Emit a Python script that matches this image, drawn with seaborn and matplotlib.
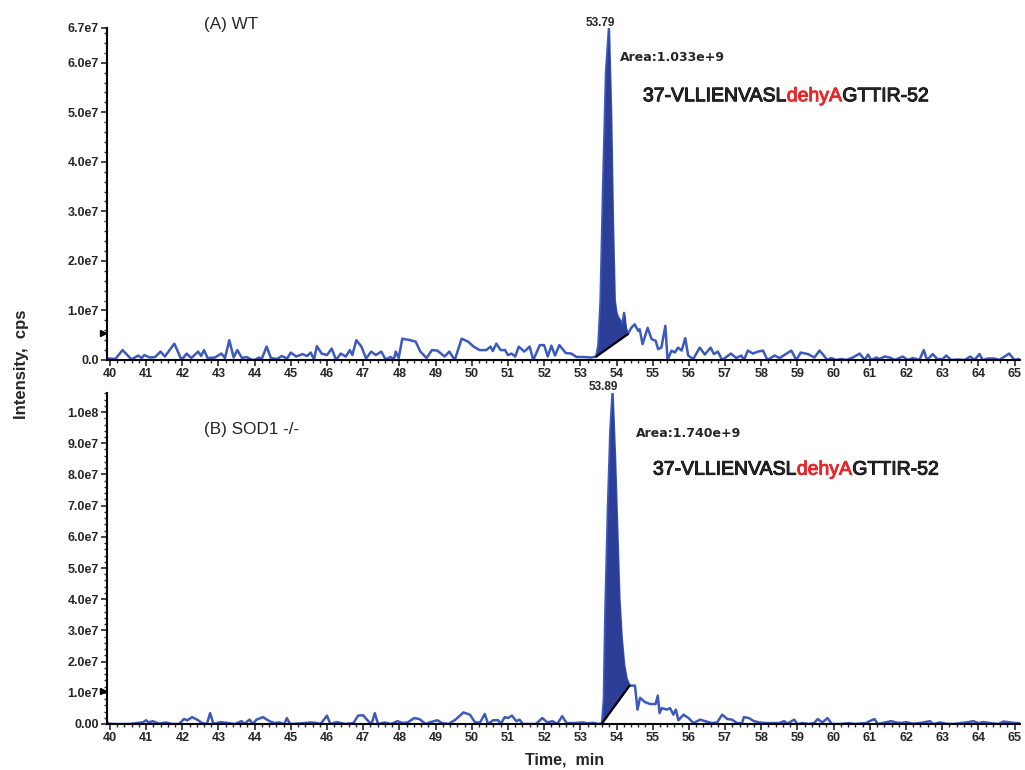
import numpy as np
import matplotlib
matplotlib.use("Agg")
import matplotlib.pyplot as plt
import matplotlib.patheffects as pe
from matplotlib.ticker import AutoMinorLocator
import seaborn as sns

# ---- data (intensity in 1e6 cps, time in min) ----
wt_time = [39.92, 40.0, 40.15, 40.35, 40.6, 40.78, 40.88, 40.95, 41.1, 41.25, 41.4, 41.52, 41.78, 41.98,
           42.12, 42.25, 42.44, 42.52, 42.6, 42.7, 42.9, 43.08, 43.18, 43.3, 43.42, 43.52, 43.65, 43.78,
           43.9, 44.0, 44.12, 44.2, 44.33, 44.45, 44.62, 44.75, 44.9, 45.0, 45.15, 45.32, 45.45, 45.55,
           45.64, 45.72, 45.85, 46.0, 46.13, 46.25, 46.38, 46.52, 46.63, 46.7, 46.81, 46.95, 47.08, 47.22,
           47.35, 47.5, 47.62, 47.75, 47.85, 47.9, 47.98, 48.08, 48.3, 48.45, 48.58, 48.75, 48.9, 49.05,
           49.25, 49.38, 49.53, 49.72, 49.9, 50.05, 50.22, 50.4, 50.52, 50.58, 50.68, 50.8, 50.92, 51.0,
           51.1, 51.2, 51.3, 51.45, 51.6, 51.7, 51.88, 52.0, 52.1, 52.2, 52.3, 52.42, 52.6, 52.75, 52.9,
           53.1, 53.3, 53.44, 53.5, 53.56, 53.63, 53.71, 53.79, 53.85, 53.9, 53.95, 54.0, 54.05, 54.1,
           54.16, 54.21, 54.26, 54.31, 54.41, 54.5, 54.6, 54.64, 54.72, 54.86, 54.97, 55.08, 55.15, 55.24,
           55.35, 55.41, 55.52, 55.61, 55.7, 55.8, 55.9, 55.98, 56.12, 56.3, 56.44, 56.6, 56.69, 56.8,
           56.92, 57.16, 57.31, 57.45, 57.52, 57.63, 57.77, 57.91, 58.05, 58.17, 58.37, 58.51, 58.83,
           58.97, 59.09, 59.29, 59.47, 59.61, 59.73, 59.82, 59.93, 60.07, 60.21, 60.35, 60.53, 60.72,
           60.86, 60.95, 61.04, 61.18, 61.27, 61.41, 61.55, 61.69, 61.91, 62.05, 62.19, 62.37, 62.49,
           62.58, 62.74, 62.86, 63.02, 63.11, 63.25, 63.43, 63.62, 63.78, 63.89, 64.03, 64.12, 64.26,
           64.44, 64.58, 64.85, 65.0, 65.12]
wt_intensity = [0.3, 0.3, 0.2, 2.0, 0.1, 0.9, 0.4, 1.0, 0.5, 0.6, 1.7, 0.7, 3.3, 0.0,
                1.3, 0.4, 1.7, 0.8, 2.0, 0.4, 0.5, 1.3, 0.4, 4.0, 0.5, 2.0, 0.4, 0.6,
                0.1, 0.0, 0.5, 0.3, 2.7, 0.4, 0.2, 0.8, 0.3, 1.5, 0.7, 1.2, 0.8, 1.5,
                0.1, 2.8, 1.3, 1.0, 2.3, 0.0, 1.3, 0.7, 2.0, 1.0, 4.0, 2.7, 0.3, 1.7,
                1.0, 1.7, 0.1, 0.6, 0.2, 1.7, 0.4, 4.3, 4.0, 3.7, 1.7, 0.4, 2.0, 1.9,
                0.7, 1.7, 0.0, 4.3, 3.7, 2.7, 2.0, 2.0, 2.7, 1.8, 3.3, 2.0, 2.0, 1.0,
                1.3, 0.7, 2.7, 1.7, 2.7, 0.0, 3.0, 3.0, 0.7, 2.9, 0.9, 3.0, 1.4, 1.3, 0.6,
                0.6, 0.5, 0.7, 3.0, 12.0, 35.0, 58.0, 66.8, 50.0, 28.0, 12.0, 9.5, 8.5, 8.0,
                7.0, 9.5, 6.5, 5.2, 6.5, 7.2, 5.9, 6.2, 3.2, 6.5, 4.2, 3.9, 2.2, 2.5,
                6.9, 0.0, 1.9, 1.5, 2.5, 1.9, 4.4, 0.9, 0.2, 2.5, 1.1, 2.5, 1.2, 1.7,
                0.0, 1.3, 0.4, 0.9, 0.0, 1.9, 1.3, 1.7, 1.9, 0.0, 0.9, 0.4, 1.9,
                0.0, 1.5, 1.2, 0.5, 1.9, 0.9, 0.0, 0.4, 0.0, 0.2, 0.0, 0.5, 1.3,
                0.0, 1.1, 0.0, 0.5, 0.2, 0.7, 0.5, 0.0, 0.7, 0.0, 0.4, 0.0, 2.0,
                0.0, 1.2, 0.2, 0.2, 0.9, 0.0, 0.1, 0.0, 0.7, 0.0, 1.2, 0.0, 0.3,
                0.3, 0.0, 1.3, 0.0, 0.2]

sod1_time = [39.9, 39.95, 40.18, 40.55, 40.73, 40.91, 41.0, 41.07, 41.18, 41.36, 41.55, 41.73, 41.91,
             42.05, 42.14, 42.27, 42.41, 42.55, 42.68, 42.77, 42.86, 43.05, 43.27, 43.45, 43.64, 43.71,
             43.86, 43.95, 44.05, 44.23, 44.41, 44.55, 44.68, 44.82, 44.89, 44.98, 45.27, 45.55, 45.73,
             45.82, 46.0, 46.09, 46.27, 46.5, 46.73, 46.86, 47.0, 47.14, 47.23, 47.32, 47.41, 47.59,
             47.77, 47.95, 48.09, 48.23, 48.41, 48.55, 48.73, 48.86, 49.05, 49.18, 49.36, 49.55, 49.77,
             49.95, 50.09, 50.23, 50.36, 50.45, 50.59, 50.73, 50.8, 50.91, 51.0, 51.11, 51.23, 51.32,
             51.41, 51.77, 51.95, 52.09, 52.23, 52.36, 52.5, 52.62, 52.82, 53.09, 53.2, 53.35, 53.5,
             53.6, 53.65, 53.69, 53.76, 53.83, 53.89, 53.96, 54.02, 54.08, 54.14, 54.21, 54.28, 54.36,
             54.51, 54.58, 54.65, 54.79, 54.93, 55.08, 55.14, 55.19, 55.25, 55.39, 55.48, 55.57, 55.64,
             55.71, 55.85, 55.99, 56.13, 56.31, 56.45, 56.64, 56.78, 56.92, 57.06, 57.19, 57.33, 57.47,
             57.52, 57.66, 57.8, 57.94, 58.12, 58.49, 58.63, 58.72, 58.91, 59.0, 59.14, 59.32, 59.46,
             59.56, 59.69, 59.83, 59.95, 60.16, 60.44, 60.57, 60.9, 60.99, 61.13, 61.22, 61.59, 61.73,
             61.87, 62.01, 62.19, 62.38, 62.66, 62.75, 62.94, 63.12, 63.31, 63.72, 63.86, 64.0, 64.14,
             64.32, 64.56, 64.69, 64.88, 65.02, 65.12]
sod1_intensity = [1.2, 0.1, 0.0, 0.0, 0.3, 0.5, 1.2, 0.5, 0.9, 0.1, 0.5, 0.0, 0.0,
                  1.6, 1.2, 2.2, 1.4, 0.3, 0.0, 3.5, 0.0, 0.6, 0.3, 0.0, 0.9, 0.0,
                  1.4, 0.0, 1.4, 2.2, 0.9, 0.3, 0.5, 0.0, 1.9, 0.0, 0.2, 0.5, 0.3,
                  0.0, 2.7, 0.0, 0.6, 0.0, 0.3, 2.7, 2.8, 0.9, 0.0, 3.5, 0.0, 0.5,
                  0.0, 0.9, 0.3, 0.5, 1.9, 1.6, 0.0, 0.6, 1.2, 0.3, 0.0, 1.4, 3.7,
                  3.0, 0.5, 0.5, 3.2, 0.0, 1.2, 1.2, 0.0, 2.2, 1.9, 2.7, 0.9, 1.4,
                  0.0, 0.0, 1.9, 0.5, 0.9, 0.0, 2.5, 0.3, 0.3, 0.5, 0.2, 0.4, 0.0,
                  0.2, 7.7, 35.0, 68.0, 94.0, 106.0, 85.0, 62.0, 40.0, 28.0, 19.0, 14.5, 12.3,
                  12.3, 4.6, 8.4, 7.0, 6.4, 6.4, 9.1, 3.5, 5.1, 4.6, 5.1, 3.0, 4.6,
                  1.2, 3.0, 1.9, 0.3, 1.4, 0.9, 0.3, 0.5, 3.0, 1.6, 1.4, 0.3, 0.3,
                  2.2, 1.9, 0.9, 0.5, 0.3, 0.3, 0.9, 0.1, 1.4, 0.0, 0.3, 0.0, 0.3,
                  1.6, 0.5, 1.9, 0.0, 0.0, 0.3, 0.0, 0.3, 0.9, 1.6, 0.0, 0.9, 0.5,
                  0.3, 0.6, 0.1, 0.3, 0.9, 0.0, 0.5, 0.1, 0.0, 0.6, 0.9, 0.3, 0.6,
                  0.3, 0.0, 0.8, 0.5, 0.3, 0.3]

panel_labels = ['(A) WT', '(B) SOD1 -/-']
peak_rt = [53.79, 53.89]
peak_window = [(53.44, 54.31), (53.60, 54.36)]
area_labels = ['Area:1.033e+9', 'Area:1.740e+9']
threshold = [5.4, 10.6]
ytick_values = [[0, 10, 20, 30, 40, 50, 60, 67],
                [0, 10, 20, 30, 40, 50, 60, 70, 80, 90, 100]]
ytick_labels = [['0.0', '1.0e7', '2.0e7', '3.0e7', '4.0e7', '5.0e7', '6.0e7', '6.7e7'],
                ['0.00', '1.0e7', '2.0e7', '3.0e7', '4.0e7', '5.0e7', '6.0e7', '7.0e7', '8.0e7',
                 '9.0e7', '1.0e8']]
ymax = [67, 106.1]
xticks = list(range(40, 66))

line_color = '#3c5abe'
fill_color = '#2d3e96'

sns.set_style("ticks")
plt.rcParams['font.family'] = ['Liberation Sans', 'DejaVu Sans']

fig = plt.figure(figsize=(10.25, 7.7), dpi=100)
ax_top = fig.add_axes([107 / 1025, 1 - 360 / 770, 913 / 1025, 332 / 770])
ax_bot = fig.add_axes([107 / 1025, 1 - 724 / 770, 913 / 1025, 331 / 770])
axes = [ax_top, ax_bot]
series = [(wt_time, wt_intensity), (sod1_time, sod1_intensity)]
# text positions in axes fraction: panel label, area label, peptide
label_pos = [(0.106, 1.012), (0.106, 0.891)]
area_pos = [(0.562, 0.910), (0.579, 0.879)]
pep_pos = [(0.587, 0.793), (0.598, 0.767)]

for i, ax in enumerate(axes):
    t = np.array(series[i][0])
    y = np.array(series[i][1]) * 1e6
    sns.lineplot(x=t, y=y, ax=ax, color=line_color, lw=1.8, estimator=None, sort=False)

    # integrated peak with its drop baseline
    t0, t1 = peak_window[i]
    y0, y1 = np.interp([t0, t1], t, y)
    m = (t >= t0) & (t <= t1)
    base = np.interp(t[m], [t0, t1], [y0, y1])
    ax.fill_between(t[m], y[m], base, color=fill_color, lw=0, zorder=3)
    ax.plot([t0, t1], [y0, y1], color='black', lw=1.6, zorder=4)

    pk = np.interp(peak_rt[i], t, y)
    ax.annotate(f'{peak_rt[i]:.2f}', xy=(peak_rt[i], pk), xytext=(-6.5, 0), textcoords='offset points',
                ha='center', va='bottom', fontsize=8.5, fontweight='bold', annotation_clip=False)
    ax.text(*area_pos[i], area_labels[i], transform=ax.transAxes, fontsize=9, fontweight='bold',
            family='DejaVu Sans', va='center')
    ax.text(*label_pos[i], panel_labels[i], transform=ax.transAxes, fontsize=12.3, va='center')

    thick = [pe.withStroke(linewidth=0.7, foreground='black')]
    p1 = ax.text(*pep_pos[i], '37-VLLIENVASL', transform=ax.transAxes, fontsize=14, va='center',
                 path_effects=thick)
    p2 = ax.annotate('dehyA', xy=(1, 0), xycoords=p1, va='bottom', ha='left', fontsize=14, color='#e8262a',
                     path_effects=[pe.withStroke(linewidth=0.7, foreground='#e8262a')])
    ax.annotate('GTTIR-52', xy=(1, 0), xycoords=p2, va='bottom', ha='left', fontsize=14, path_effects=thick)

    ax.plot([-0.004], [threshold[i] * 1e6], marker='>', color='black', ms=5,
            transform=ax.get_yaxis_transform(), clip_on=False)

    ax.set_xlim(39.92, 65.15)
    ax.set_ylim(0, ymax[i] * 1e6)
    ax.set_xticks(xticks)
    ax.set_xticklabels([str(v) for v in xticks])
    ax.set_yticks([v * 1e6 for v in ytick_values[i]])
    ax.set_yticklabels(ytick_labels[i])
    ax.yaxis.set_minor_locator(AutoMinorLocator(5))
    ax.xaxis.set_minor_locator(AutoMinorLocator(5))
    ax.tick_params(axis='both', which='major', length=4, width=1.2, labelsize=9, pad=2)
    ax.tick_params(axis='both', which='minor', length=2, width=1)
    for lab in ax.get_xticklabels() + ax.get_yticklabels():
        lab.set_fontweight('bold')
    ax.set_xlabel('')
    ax.set_ylabel('')
    for side in ['left', 'bottom']:
        ax.spines[side].set_linewidth(1.5)
        ax.spines[side].set_color('black')
    sns.despine(ax=ax)

fig.text(22 / 1025, 1 - 364 / 770, 'Intensity,  cps', rotation=90, ha='center', va='center',
         fontsize=12, fontweight='bold')
fig.text(565 / 1025, 1 - 760 / 770, 'Time,  min', ha='center', va='center', fontsize=11.5, fontweight='bold')

fig.savefig('out.png', dpi=100)
